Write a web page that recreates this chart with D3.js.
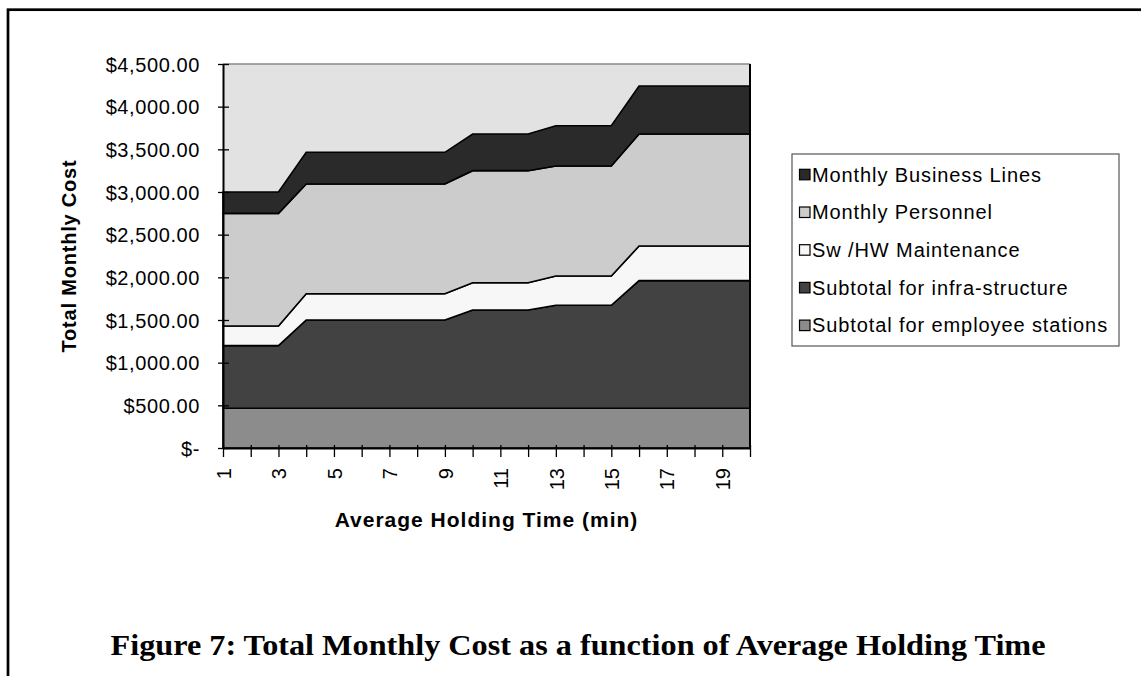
<!DOCTYPE html>
<html><head><meta charset="utf-8">
<script src="https://cdn.jsdelivr.net/npm/d3@7"></script>
<style>
html,body{margin:0;padding:0;background:#fff;}
svg{display:block;}
text{font-family:Arial,"Liberation Sans",sans-serif;fill:#000;}
</style></head>
<body>
<svg id="chart" width="1141" height="676"></svg>
<script>
// ---- data ----
const holdingTimes = [1,2,3,4,5,6,7,8,9,10,11,12,13,14,15,16,17,18,19,20];
const employeeStations = [465,465,465,465,465,465,465,465,465,465,465,465,465,465,465,465,465,465,465,465];
const infraStructure  = [735,735,735,1035,1035,1035,1035,1035,1035,1152,1152,1152,1207,1207,1207,1496,1496,1496,1496,1496];
const swHwMaintenance = [230,230,230,308,308,308,308,308,308,320,320,320,344,344,344,406,406,406,406,406];
const monthlyPersonnel = [1320,1320,1320,1286,1286,1286,1286,1286,1286,1313,1313,1313,1289,1289,1289,1313,1313,1313,1313,1313];
const businessLines   = [250,250,250,371,371,371,371,371,371,430,430,430,472,472,472,562,562,562,562,562];
const seriesNames = ["Subtotal for employee stations","Subtotal for infra-structure","Sw /HW Maintenance","Monthly Personnel","Monthly Business Lines"];
const yTicks = [0,500,1000,1500,2000,2500,3000,3500,4000,4500];
const xLabelTicks = [1,3,5,7,9,11,13,15,17,19];
const colors = ["#8c8c8c","#424242","#f7f7f7","#cccccc","#2a2a2a"];

const svg = d3.select("#chart");

// outer frame
svg.append("rect").attr("x",8).attr("y",9.7).attr("width",1200).attr("height",800)
  .attr("fill","none").attr("stroke","#000").attr("stroke-width",2.7);

const pL=223, pR=750, pT=64, pB=448;
const x = d3.scaleLinear().domain([1,20]).range([pL,pR]);
const y = d3.scaleLinear().domain([0,4500]).range([pB,pT]);

// plot background
svg.append("rect").attr("x",pL).attr("y",pT).attr("width",pR-pL).attr("height",pB-pT)
  .attr("fill","#e2e2e2");

const table = holdingTimes.map((t,i)=>({t,
  s0:employeeStations[i], s1:infraStructure[i], s2:swHwMaintenance[i], s3:monthlyPersonnel[i], s4:businessLines[i]}));
const stack = d3.stack().keys(["s0","s1","s2","s3","s4"]);
const layers = stack(table);
const area = d3.area().x(d=>x(d.data.t)).y0(d=>y(d[0])).y1(d=>y(d[1]));
svg.append("g").selectAll("path").data(layers).join("path")
  .attr("d",area).attr("fill",(d,i)=>colors[i]).attr("stroke","#000").attr("stroke-width",1.6)
  .attr("stroke-linejoin","miter");

// plot borders
svg.append("line").attr("x1",pL).attr("x2",pR).attr("y1",pT).attr("y2",pT).attr("stroke","#888").attr("stroke-width",1.5);
svg.append("line").attr("x1",pR).attr("x2",pR).attr("y1",pT).attr("y2",pB).attr("stroke","#000").attr("stroke-width",2);

// y axis
const yAxis = d3.axisLeft(y).tickValues(yTicks).tickSize(0).tickPadding(0)
  .tickFormat(v=> v===0 ? "$-" : "$"+d3.format(",.2f")(v));
const gy = svg.append("g").attr("transform",`translate(${pL},0)`).call(yAxis);
gy.select(".domain").attr("stroke","#000").attr("stroke-width",2);
gy.selectAll(".tick line").attr("x1",-5).attr("x2",6).attr("stroke","#000").attr("stroke-width",1.3);
gy.selectAll(".tick text").attr("x",-23).attr("dy","0.36em").style("font-size","20px")
  .style("letter-spacing","0.6px").style("font-family","Arial, 'Liberation Sans', sans-serif").attr("fill","#000");

// x axis
const xAxis = d3.axisBottom(x).tickValues(holdingTimes).tickSize(0).tickPadding(0)
  .tickFormat(v=> xLabelTicks.includes(v) ? String(v) : "");
const gx = svg.append("g").attr("transform",`translate(0,${pB})`).call(xAxis);
gx.select(".domain").attr("stroke","#000").attr("stroke-width",2);
gx.selectAll(".tick line").attr("y1",-3).attr("y2",9).attr("stroke","#000").attr("stroke-width",1.3);
gx.selectAll(".tick text").attr("transform","rotate(-90)").attr("x",-20).attr("y",0).attr("dy","0.36em")
  .attr("text-anchor","end").style("font-size","20px").style("font-family","Arial, 'Liberation Sans', sans-serif").attr("fill","#000");

// axis titles
svg.append("text").attr("transform",`translate(76,${(pT+pB)/2}) rotate(-90)`).attr("text-anchor","middle")
  .style("font-size","20px").style("font-weight","bold").style("letter-spacing","0.8px").text("Total Monthly Cost");
svg.append("text").attr("x",(pL+pR)/2).attr("y",527).attr("text-anchor","middle")
  .style("font-size","21px").style("font-weight","bold").style("letter-spacing","1px").text("Average Holding Time (min)");

// legend
const lg = svg.append("g");
lg.append("rect").attr("x",792).attr("y",154).attr("width",327).attr("height",192)
  .attr("fill","#fff").attr("stroke","#555").attr("stroke-width",1.2);
const legendOrder = [4,3,2,1,0];
legendOrder.forEach((si,k)=>{
  const cy = 174.3 + k*37.7;
  lg.append("rect").attr("x",799.5).attr("y",cy-5).attr("width",10.5).attr("height",10.5)
    .attr("fill",colors[si]).attr("stroke","#000").attr("stroke-width",1.2);
  lg.append("text").attr("x",812).attr("y",cy).attr("dy","0.36em").style("font-size","20px")
    .style("letter-spacing","0.9px").text(seriesNames[si]);
});

// caption
svg.append("text").attr("x",110.5).attr("y",655)
  .attr("textLength",935).attr("lengthAdjust","spacingAndGlyphs")
  .style("font-family","'Liberation Serif','Times New Roman',serif").style("font-weight","bold").style("font-size","30px")
  .text("Figure 7: Total Monthly Cost as a function of Average Holding Time");
</script>
</body></html>
